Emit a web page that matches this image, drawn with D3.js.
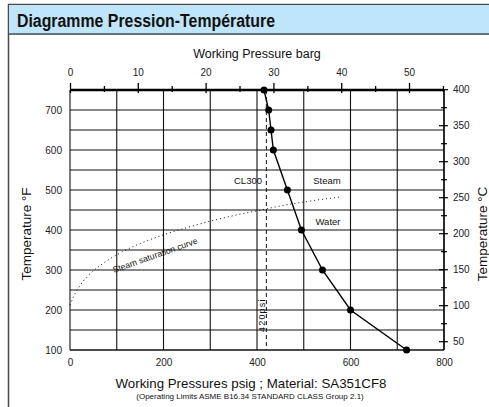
<!DOCTYPE html>
<html>
<head>
<meta charset="utf-8">
<script src="https://cdn.jsdelivr.net/npm/d3@7"></script>
<style>
  body { margin: 0; background: #fff; }
  svg { display: block; font-family: "Liberation Sans", Arial, sans-serif; }
  .domain { display: none; }
</style>
</head>
<body>
<svg id="chart" width="489" height="407"></svg>
<script>
// CL300 rating, SA351CF8 (group 2.1)
const ratingPsig = [720, 600, 540, 495, 465, 435, 430, 425, 415];
const ratingTempF = [100, 200, 300, 400, 500, 600, 650, 700, 750];

// steam saturation curve
const satPsig = [0, 10, 25, 50, 75, 100, 150, 200, 250, 300, 350, 400, 450, 500, 575];
const satTempF = [212, 239, 267, 298, 320, 338, 366, 388, 406, 422, 436, 448, 460, 470, 482];

const psigTicks = [0, 200, 400, 600, 800];
const gridPsig = [0, 100, 200, 300, 400, 500, 600, 700, 800];
const tempFTicks = [100, 200, 300, 400, 500, 600, 700];
const gridTempF = [150, 200, 250, 300, 350, 400, 450, 500, 550, 600, 650, 700];
const barTicks = [0, 5, 10, 15, 20, 25, 30, 35, 40, 45, 50, 55];
const tempCTicks = [50, 75, 100, 125, 150, 175, 200, 225, 250, 275, 300, 325, 350, 375, 400];
const limitPsig = 420;

const svg = d3.select("#chart");

// frame and title bar
svg.append("rect").attr("x", 8.5).attr("y", 4.5).attr("width", 500).attr("height", 500)
  .attr("fill", "#fff").attr("stroke", "#4a4a4a").attr("stroke-width", 1.5);
svg.append("rect").attr("x", 9).attr("y", 5).attr("width", 490).attr("height", 29)
  .attr("fill", "#bfe5fa");
svg.append("line").attr("x1", 9).attr("x2", 489).attr("y1", 34).attr("y2", 34)
  .attr("stroke", "#65737d").attr("stroke-width", 2);
svg.append("text").attr("x", 17).attr("y", 27)
  .attr("font-size", 17.5).attr("font-weight", "bold").attr("fill", "#111")
  .attr("textLength", 258).attr("lengthAdjust", "spacingAndGlyphs")
  .text("Diagramme Pression-Température");

const x = d3.scaleLinear().domain([0, 800]).range([70, 444]);
const yF = d3.scaleLinear().domain([100, 750]).range([350, 90]);
const yC = d3.scaleLinear().domain([(100 - 32) / 1.8, (750 - 32) / 1.8]).range([350, 90]);
const xBar = d3.scaleLinear().domain([0, 800 / 14.5038]).range([70, 444]);

// grid
const grid = svg.append("g").attr("stroke", "#111").attr("stroke-width", 1.1);
grid.selectAll(".v").data(gridPsig).enter().append("line")
  .attr("x1", d => x(d)).attr("x2", d => x(d))
  .attr("y1", yF(750)).attr("y2", yF(100));
grid.selectAll(".h").data(gridTempF).enter().append("line")
  .attr("x1", x(0)).attr("x2", x(800))
  .attr("y1", d => yF(d)).attr("y2", d => yF(d));
grid.append("line").attr("x1", x(0)).attr("x2", x(800))
  .attr("y1", yF(100)).attr("y2", yF(100)).attr("stroke-width", 1.3);

// axes
const leftAxis = svg.append("g").attr("transform", `translate(${x(0)},0)`)
  .call(d3.axisLeft(yF).tickValues(tempFTicks).tickSize(0).tickPadding(8));
const bottomAxis = svg.append("g").attr("transform", `translate(0,${yF(100)})`)
  .call(d3.axisBottom(x).tickValues(psigTicks).tickSize(0).tickPadding(9));

const topAxis = svg.append("g").attr("transform", `translate(0,${yF(750)})`)
  .call(d3.axisTop(xBar).tickValues(barTicks).tickSize(7).tickPadding(7)
    .tickFormat(d => d % 10 === 0 ? d : ""));
topAxis.selectAll(".tick line")
  .attr("y1", d => d % 10 === 0 ? 3 : 2)
  .attr("y2", d => d % 10 === 0 ? -7 : -4)
  .attr("stroke-width", 1.3);
topAxis.append("line").attr("x1", xBar(0)).attr("x2", x(800))
  .attr("stroke", "#000").attr("stroke-width", 2.5);

const rightAxis = svg.append("g").attr("transform", `translate(${x(800)},0)`)
  .call(d3.axisRight(yC).tickValues(tempCTicks).tickSize(4).tickPadding(5)
    .tickFormat(d => d % 50 === 0 ? d : ""));
rightAxis.selectAll(".tick line")
  .attr("x1", d => d % 50 === 0 ? -5 : -3)
  .attr("x2", d => d % 50 === 0 ? 4 : 3)
  .attr("stroke-width", 1.2);
rightAxis.append("line").attr("y1", yF(750)).attr("y2", yF(100))
  .attr("stroke", "#000").attr("stroke-width", 1.3);

svg.selectAll(".tick text").attr("font-size", 10).attr("fill", "#222")
  .attr("font-family", "Liberation Sans, Arial, sans-serif");

// axis titles
svg.append("text").attr("x", 257).attr("y", 58).attr("text-anchor", "middle")
  .attr("font-size", 12.5).attr("fill", "#111").text("Working Pressure barg");
svg.append("text").attr("x", 251).attr("y", 388).attr("text-anchor", "middle")
  .attr("font-size", 13.3).attr("fill", "#111").text("Working Pressures psig ; Material: SA351CF8");
svg.append("text").attr("x", 250).attr("y", 399).attr("text-anchor", "middle")
  .attr("font-size", 8).attr("fill", "#111")
  .text("(Operating Limits ASME B16.34 STANDARD CLASS Group 2.1)");
svg.append("text").attr("transform", "translate(31,234) rotate(-90)")
  .attr("text-anchor", "middle").attr("font-size", 13.5).attr("fill", "#111")
  .text("Temperature °F");
svg.append("text").attr("transform", "translate(487,234) rotate(-90)")
  .attr("text-anchor", "middle").attr("font-size", 13.5).attr("fill", "#111")
  .text("Temperature °C");

// saturation curve
const satData = satPsig.map((p, i) => [p, satTempF[i]]);
svg.append("path").datum(satData)
  .attr("d", d3.line().x(d => x(d[0])).y(d => yF(d[1])).curve(d3.curveMonotoneX))
  .attr("fill", "none").attr("stroke", "#111").attr("stroke-width", 1)
  .attr("stroke-dasharray", "1,3");
svg.append("text").attr("transform", "translate(114,273) rotate(-19.5)")
  .attr("font-size", 8.7).attr("fill", "#111").text("Steam saturation curve");

// 420 psi limit
svg.append("line").attr("x1", x(limitPsig)).attr("x2", x(limitPsig))
  .attr("y1", yF(750)).attr("y2", yF(100))
  .attr("stroke", "#111").attr("stroke-width", 1).attr("stroke-dasharray", "4,3");
svg.append("text").attr("transform", `translate(${x(limitPsig) - 1},332) rotate(-90)`)
  .attr("font-size", 9).attr("letter-spacing", 1.2).attr("fill", "#111").text("420psi");

// labels
svg.append("text").attr("x", 262).attr("y", 184).attr("text-anchor", "end")
  .attr("font-size", 9.5).attr("fill", "#111").text("CL300");
svg.append("text").attr("x", 327).attr("y", 184).attr("text-anchor", "middle")
  .attr("font-size", 9.5).attr("fill", "#111").text("Steam");
svg.append("text").attr("x", 328).attr("y", 225).attr("text-anchor", "middle")
  .attr("font-size", 9.5).attr("fill", "#111").text("Water");

// rating line
const ratingData = ratingPsig.map((p, i) => [p, ratingTempF[i]]);
svg.append("path").datum(ratingData)
  .attr("d", d3.line().x(d => x(d[0])).y(d => yF(d[1])))
  .attr("fill", "none").attr("stroke", "#000").attr("stroke-width", 1.4);
svg.selectAll(".pt").data(ratingData).enter().append("circle")
  .attr("cx", d => x(d[0])).attr("cy", d => yF(d[1])).attr("r", 3.5)
  .attr("fill", "#000");
</script>
</body>
</html>
